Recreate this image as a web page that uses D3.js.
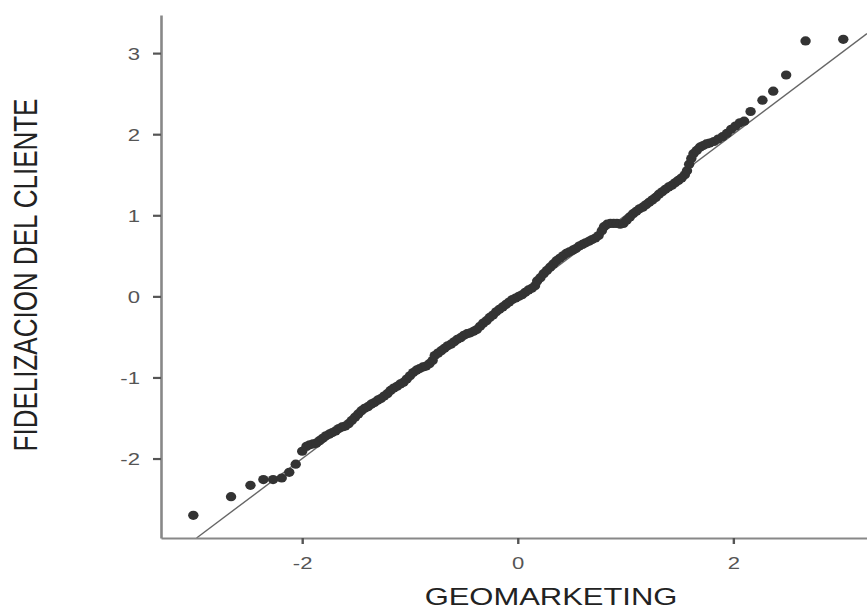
<!DOCTYPE html>
<html>
<head>
<meta charset="utf-8">
<script src="https://cdn.jsdelivr.net/npm/d3@7"></script>
<style>
  html, body { margin: 0; padding: 0; background: #fff; }
  svg { display: block; font-family: "Liberation Sans", Arial, sans-serif; }
</style>
</head>
<body>
<svg id="chart" width="867" height="610"></svg>
<script>
// Q-Q plot: FIDELIZACION DEL CLIENTE vs GEOMARKETING

const geoX = [
  -3.01, -2.66, -2.48, -2.36, -2.27, -2.19, -2.12, -2.06, -2.00,
  -1.96, -1.93, -1.90, -1.87, -1.84, -1.81, -1.78, -1.75, -1.72, -1.69,
  -1.66, -1.63, -1.60, -1.57, -1.54, -1.51, -1.48, -1.45, -1.42, -1.39,
  -1.36, -1.33, -1.30, -1.27, -1.24, -1.21, -1.18, -1.15, -1.12, -1.09,
  -1.06, -1.03, -1.00, -0.97, -0.94, -0.91, -0.88, -0.85, -0.82, -0.79,
  -0.77, -0.74, -0.71, -0.68, -0.65, -0.62, -0.59, -0.56, -0.53, -0.50,
  -0.47, -0.44, -0.41, -0.38, -0.35, -0.32, -0.29, -0.26, -0.23, -0.20,
  -0.17, -0.14, -0.11, -0.08, -0.05, -0.02, 0.01, 0.04, 0.07, 0.10,
  0.13, 0.16, 0.18, 0.21, 0.24, 0.27, 0.30, 0.33, 0.36, 0.39,
  0.42, 0.45, 0.48, 0.51, 0.54, 0.57, 0.60, 0.63, 0.66, 0.69,
  0.72, 0.75, 0.78, 0.80, 0.83, 0.86, 0.89, 0.92, 0.95, 0.98,
  1.01, 1.04, 1.07, 1.10, 1.13, 1.16, 1.19, 1.22, 1.25, 1.28,
  1.31, 1.34, 1.37, 1.40, 1.43, 1.46, 1.49, 1.52, 1.55, 1.57,
  1.59, 1.61, 1.63, 1.66, 1.69, 1.72, 1.75, 1.78, 1.82, 1.86,
  1.90, 1.94, 1.98, 2.02, 2.06, 2.10, 2.16, 2.27, 2.37, 2.49,
  2.67, 3.02
];
const fidY = [
  -2.70, -2.47, -2.33, -2.26, -2.26, -2.24, -2.17, -2.07, -1.91,
  -1.85, -1.83, -1.82, -1.81, -1.78, -1.75, -1.72, -1.70, -1.68, -1.66,
  -1.63, -1.61, -1.60, -1.57, -1.53, -1.49, -1.45, -1.41, -1.38, -1.36,
  -1.33, -1.31, -1.28, -1.26, -1.23, -1.20, -1.16, -1.13, -1.11, -1.08,
  -1.06, -1.02, -0.98, -0.94, -0.91, -0.89, -0.87, -0.86, -0.83, -0.79,
  -0.73, -0.70, -0.67, -0.64, -0.61, -0.59, -0.56, -0.53, -0.51, -0.48,
  -0.46, -0.45, -0.43, -0.41, -0.37, -0.33, -0.30, -0.26, -0.23, -0.19,
  -0.16, -0.13, -0.10, -0.07, -0.04, -0.02, 0.00, 0.02, 0.05, 0.08,
  0.10, 0.13, 0.19, 0.23, 0.28, 0.32, 0.36, 0.40, 0.44, 0.47,
  0.50, 0.53, 0.55, 0.57, 0.59, 0.62, 0.64, 0.66, 0.68, 0.70,
  0.72, 0.75, 0.81, 0.86, 0.89, 0.90, 0.90, 0.90, 0.89, 0.90,
  0.94, 0.98, 1.02, 1.05, 1.08, 1.10, 1.13, 1.16, 1.19, 1.22,
  1.26, 1.29, 1.32, 1.35, 1.37, 1.40, 1.43, 1.46, 1.50, 1.55,
  1.63, 1.70, 1.76, 1.80, 1.84, 1.86, 1.88, 1.89, 1.91, 1.94,
  1.97, 2.01, 2.06, 2.10, 2.14, 2.16, 2.28, 2.42, 2.53, 2.73,
  3.15, 3.17
];

const xTicks = [-2, 0, 2];
const yTicks = [-2, -1, 0, 1, 2, 3];
const xTitle = 'GEOMARKETING';
const yTitle = 'FIDELIZACION DEL CLIENTE';

// the picture is stretched sideways, so text gets a horizontal scale
const STRETCH = 1.3;

const svg = d3.select('#chart');

const x = d3.scaleLinear().domain([-3.31, 3.24]).range([161, 867]);
const y = d3.scaleLinear().domain([-2.98, 3.47]).range([538, 15]);

// reference line y = x, kept inside the plot area
const lineDom = [-2.98, 3.24];
svg.append('line')
    .attr('x1', x(lineDom[0])).attr('y1', y(lineDom[0]))
    .attr('x2', x(lineDom[1])).attr('y2', y(lineDom[1]))
    .attr('stroke', '#666')
    .attr('stroke-width', 1.4);

// points
const pts = geoX.map((v, i) => ({ x: v, y: fidY[i] }));
svg.append('g')
    .selectAll('ellipse')
    .data(pts)
    .join('ellipse')
    .attr('cx', d => x(d.x))
    .attr('cy', d => y(d.y))
    .attr('rx', 5.2)
    .attr('ry', 4.6)
    .attr('fill', '#333');

const fmt = d => String(d);

// y axis
const yAxis = svg.append('g')
    .attr('transform', `translate(${x.range()[0]},0)`)
    .call(d3.axisLeft(y).tickValues(yTicks).tickSize(8).tickSizeOuter(0).tickFormat(fmt));
yAxis.select('.domain').attr('stroke', '#888').attr('stroke-width', 2.6);
yAxis.selectAll('.tick line').attr('stroke', '#555').attr('stroke-width', 2.2);
yAxis.selectAll('.tick text')
    .attr('x', 0).attr('dy', '0.35em')
    .attr('transform', `translate(-21,0) scale(${STRETCH},1)`)
    .attr('font-size', 17)
    .attr('font-family', '"Liberation Sans", Arial, sans-serif')
    .attr('fill', '#555');

// x axis
const xAxis = svg.append('g')
    .attr('transform', `translate(0,${y.range()[0]})`)
    .call(d3.axisBottom(x).tickValues(xTicks).tickSize(6).tickSizeOuter(0).tickFormat(fmt));
xAxis.select('.domain').attr('stroke', '#888').attr('stroke-width', 1.8);
xAxis.selectAll('.tick line').attr('stroke', '#555').attr('stroke-width', 2.4);
xAxis.selectAll('.tick text')
    .attr('y', 0).attr('dy', 0)
    .attr('transform', `translate(0,31) scale(${STRETCH},1)`)
    .attr('font-size', 17)
    .attr('font-family', '"Liberation Sans", Arial, sans-serif')
    .attr('fill', '#555');

// axis titles
svg.append('text')
    .attr('transform', `translate(551,605) scale(1.29,1)`)
    .attr('text-anchor', 'middle')
    .attr('font-size', 24)
    .attr('fill', '#222')
    .text(xTitle);

svg.append('text')
    .attr('transform', `translate(37,275) scale(1.25,1) rotate(-90)`)
    .attr('text-anchor', 'middle')
    .attr('font-size', 26)
    .attr('fill', '#222')
    .text(yTitle);
</script>
</body>
</html>
